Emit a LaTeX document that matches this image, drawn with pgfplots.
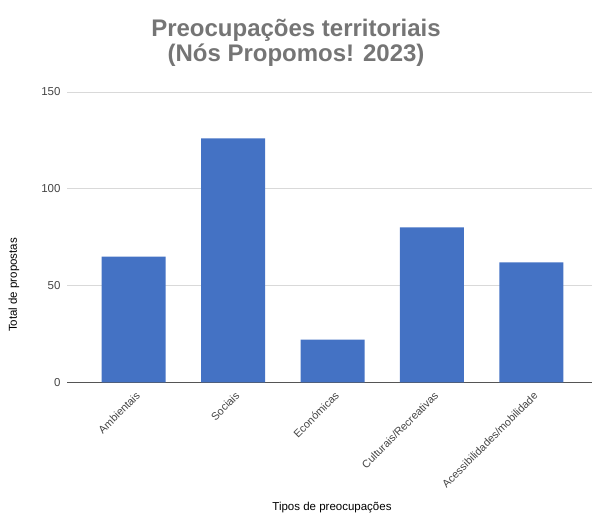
\documentclass[border=0pt]{standalone}
\usepackage{pgfplots}
\pgfplotsset{compat=1.18}
\usepackage{fontspec}
\setmainfont{Liberation Sans}
\definecolor{barblue}{HTML}{4472C4}
\definecolor{titlegray}{HTML}{757575}
\definecolor{ticktext}{HTML}{444444}
\definecolor{gridgray}{HTML}{D9D9D9}
\definecolor{zeroline}{HTML}{555555}

\begin{document}
\begin{tikzpicture}
  \begin{axis}[
      at={(0,0)}, anchor=south west,
      scale only axis,
      width=525bp, height=290.3bp,
      ybar, bar width=64bp,
      xmin=-0.671, xmax=4.61,
      ymin=0, ymax=150,
      ytick={0,50,100,150},
      xtick={0,1,2,3,4},
      xticklabels={Ambientais, Sociais, Económicas, Culturais/Recreativas, Acessibilidades/mobilidade},
      axis x line=bottom, axis y line=left,
      x axis line style={draw=zeroline, line width=1.2bp, -},
      y axis line style={draw=none},
      major tick length=0pt,
      ymajorgrids, grid style={gridgray, line width=0.9bp},
      yticklabel style={font=\fontsize{11.5bp}{13bp}\selectfont, text=ticktext, xshift=-3bp},
      xticklabel style={font=\fontsize{10.8bp}{12bp}\selectfont, text=ticktext, xshift=1.5bp, yshift=-7bp, rotate=45, anchor=north east, inner sep=1bp},
      /pgf/number format/assume math mode=true,
      clip=false,
    ]
    \addplot[fill=barblue, draw=none] coordinates {
      (0,65) (1,126) (2,22) (3,80) (4,62)
    };
  \end{axis}
  \node[font=\fontsize{11.5bp}{13bp}\selectfont, text=black, rotate=90] at (-53bp,97.3bp) {Total de propostas};
  \node[font=\fontsize{11.5bp}{13bp}\selectfont, text=black] at (265bp,-125bp) {Tipos de preocupações};
  \node[font=\bfseries\fontsize{24bp}{26bp}\selectfont, text=titlegray, anchor=base] at (229bp,345.3bp) {Preocupações territoriais};
  \node[font=\bfseries\fontsize{24bp}{26bp}\selectfont, text=titlegray, anchor=base] at (229bp,320.3bp) {(Nós Propomos! 2023)};
  \pgfresetboundingbox
  \path[use as bounding box] (-67bp,-131.7bp) rectangle (525bp,382.3bp);
\end{tikzpicture}
\end{document}
